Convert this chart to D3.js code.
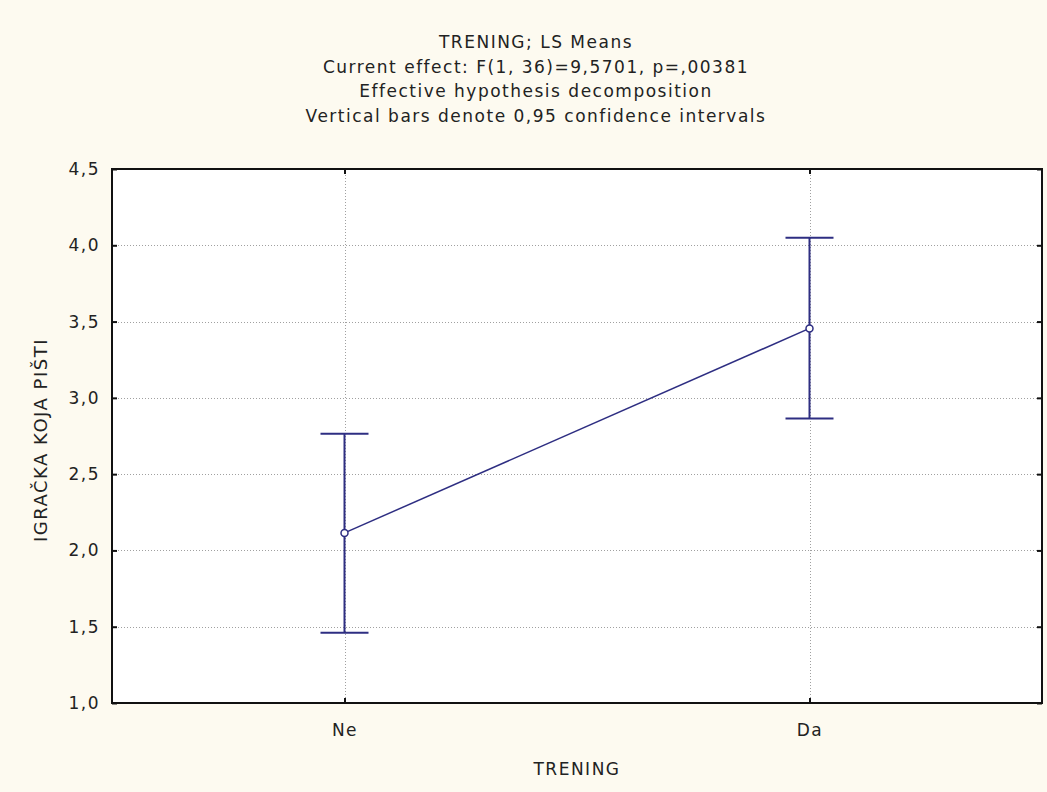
<!DOCTYPE html>
<html>
<head>
<meta charset="utf-8">
<script src="https://cdn.jsdelivr.net/npm/d3@7"></script>
<style>
  body { margin: 0; background: #fdfaf0; }
  text { font-family: "DejaVu Sans", Verdana, sans-serif; fill: #222; letter-spacing: 1.5px; }
</style>
</head>
<body>
<svg id="chart" width="1047" height="792"></svg>
<script>
// data
var categories = ['Ne', 'Da'];
var means = [2.115, 3.455];
var lower = [1.46, 2.865];
var upper = [2.765, 4.05];
var yTicks = [1.0, 1.5, 2.0, 2.5, 3.0, 3.5, 4.0, 4.5];
var titleLines = [
    'TRENING; LS Means',
    'Current effect: F(1, 36)=9,5701, p=,00381',
    'Effective hypothesis decomposition',
    'Vertical bars denote 0,95 confidence intervals'
];

var svg = d3.select('#chart');
var plotL = 112, plotR = 1042, plotT = 169, plotB = 703;
var lineColor = '#2e2e82';
var fontSize = '17px';

var x = d3.scalePoint().domain(categories).range([plotL, plotR]).padding(0.5);
var y = d3.scaleLinear().domain([1, 4.5]).range([plotB, plotT]);
var fmt = function(v) { return d3.format('.1f')(v).replace('.', ','); };

svg.append('rect')
    .attr('x', plotL).attr('y', plotT)
    .attr('width', plotR - plotL).attr('height', plotB - plotT)
    .attr('fill', '#fff');

// grid
var grid = svg.append('g').attr('stroke', '#a0a0a0').attr('stroke-dasharray', '1,2').attr('stroke-width', 1);
yTicks.slice(1, -1).forEach(function(t) {
    grid.append('line').attr('x1', plotL).attr('x2', plotR)
        .attr('y1', Math.round(y(t)) + 0.5).attr('y2', Math.round(y(t)) + 0.5);
});
categories.forEach(function(c) {
    grid.append('line').attr('y1', plotT).attr('y2', plotB)
        .attr('x1', Math.round(x(c)) + 0.5).attr('x2', Math.round(x(c)) + 0.5);
});

// axes with inward ticks
var axisL = svg.append('g').attr('transform', 'translate(' + plotL + ',0)')
    .call(d3.axisLeft(y).tickValues(yTicks).tickFormat(fmt).tickSizeInner(-5).tickSizeOuter(0).tickPadding(12));
var axisR = svg.append('g').attr('transform', 'translate(' + plotR + ',0)')
    .call(d3.axisRight(y).tickValues(yTicks).tickFormat('').tickSizeInner(-5).tickSizeOuter(0));
var axisB = svg.append('g').attr('transform', 'translate(0,' + plotB + ')')
    .call(d3.axisBottom(x).tickSizeInner(-5).tickSizeOuter(0).tickPadding(21));
var axisT = svg.append('g').attr('transform', 'translate(0,' + plotT + ')')
    .call(d3.axisTop(x).tickFormat('').tickSizeInner(-5).tickSizeOuter(0));
[axisL, axisR, axisB, axisT].forEach(function(a) {
    a.attr('font-family', null);
    a.selectAll('.domain').remove();
    a.selectAll('line').attr('stroke', '#111').attr('stroke-width', 2);
    a.selectAll('text').style('font-size', fontSize).attr('fill', '#222');
});

svg.append('rect')
    .attr('x', plotL).attr('y', plotT)
    .attr('width', plotR - plotL).attr('height', plotB - plotT)
    .attr('fill', 'none').attr('stroke', '#111').attr('stroke-width', 2);

// error bars
var bars = svg.append('g').attr('stroke', lineColor).attr('stroke-width', 2).attr('fill', 'none');
categories.forEach(function(c, i) {
    var cx = x(c);
    bars.append('line').attr('x1', cx).attr('x2', cx).attr('y1', y(lower[i])).attr('y2', y(upper[i]));
    bars.append('line').attr('x1', cx - 24).attr('x2', cx + 24).attr('y1', y(lower[i])).attr('y2', y(lower[i]));
    bars.append('line').attr('x1', cx - 24).attr('x2', cx + 24).attr('y1', y(upper[i])).attr('y2', y(upper[i]));
});

// mean line and markers
svg.append('path')
    .datum(means)
    .attr('d', d3.line().x(function(d, i) { return x(categories[i]); }).y(function(d) { return y(d); }))
    .attr('stroke', lineColor).attr('stroke-width', 1.5).attr('fill', 'none');
svg.selectAll('circle.mean').data(means).enter().append('circle')
    .attr('class', 'mean')
    .attr('cx', function(d, i) { return x(categories[i]); })
    .attr('cy', function(d) { return y(d); })
    .attr('r', 3.5)
    .attr('fill', '#fff').attr('stroke', lineColor).attr('stroke-width', 1.5);

// titles
svg.selectAll('text.title').data(titleLines).enter().append('text')
    .attr('class', 'title')
    .attr('x', 536).attr('y', function(d, i) { return 48 + i * 24.5; })
    .attr('text-anchor', 'middle').style('font-size', fontSize)
    .text(function(d) { return d; });

svg.append('text')
    .attr('x', 577).attr('y', 775)
    .attr('text-anchor', 'middle').style('font-size', fontSize)
    .text('TRENING');

svg.append('text')
    .attr('transform', 'translate(47,' + ((plotT + plotB) / 2 + 4) + ') rotate(-90)')
    .attr('text-anchor', 'middle').style('font-size', '18px')
    .text('IGRAČKA KOJA PIŠTI');
</script>
</body>
</html>
